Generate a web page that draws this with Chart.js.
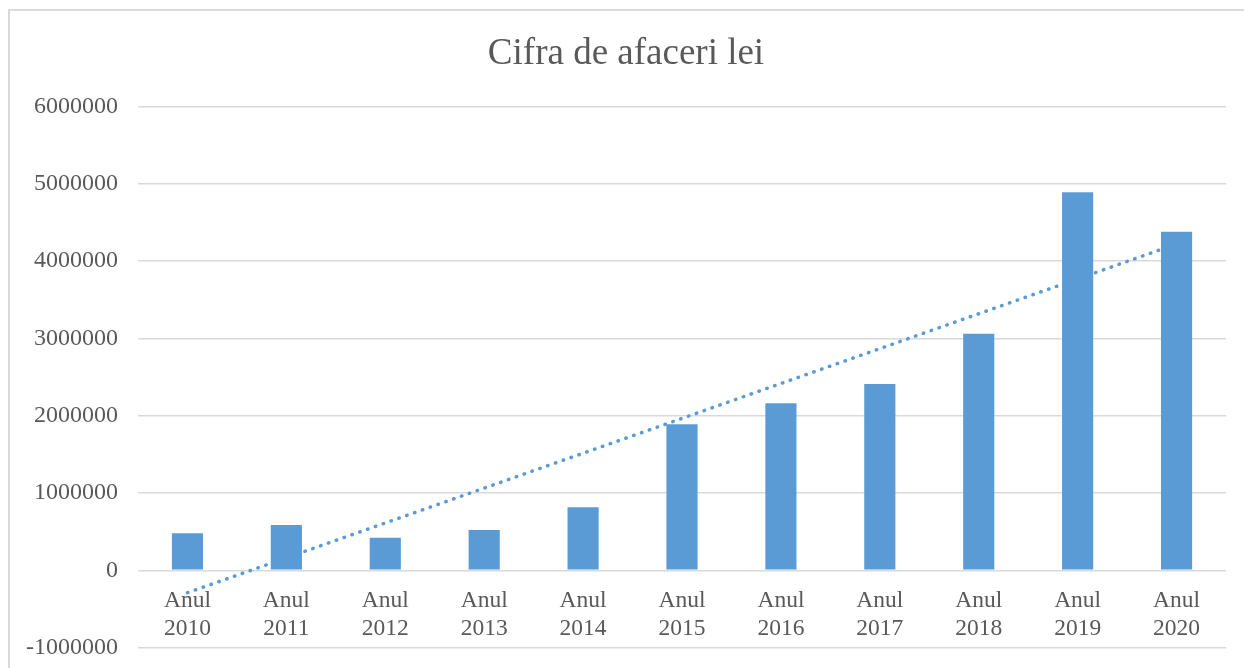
<!DOCTYPE html>
<html>
<head>
<meta charset="utf-8">
<script src="https://cdn.jsdelivr.net/npm/chart.js@4/dist/chart.umd.min.js"></script>
<style>
	body { margin: 0; background: #fff; overflow: hidden; }
	#frame {
		position: absolute; left: 8px; top: 9px;
		width: 1300px; height: 700px;
		border-left: 2px solid #d9d9d9; border-top: 2px solid #d9d9d9;
	}
	#chart { position: absolute; left: 0; top: 0; }
</style>
</head>
<body>
<div id="frame"><canvas id="chart" width="1246" height="671"></canvas></div>
<script>
// data
const years = ['Anul 2010', 'Anul 2011', 'Anul 2012', 'Anul 2013', 'Anul 2014', 'Anul 2015',
	'Anul 2016', 'Anul 2017', 'Anul 2018', 'Anul 2019', 'Anul 2020'];
const cifraAfaceri = [480000, 585000, 420000, 520000, 815000, 1890000, 2160000, 2410000, 3060000, 4890000, 4380000];
// trend line read at first and last year
const trendLine = [-290000, null, null, null, null, null, null, null, null, null, 4220000];
const yTicks = [-1000000, 0, 1000000, 2000000, 3000000, 4000000, 5000000, 6000000];

const fontFam = "'Liberation Serif', 'Times New Roman', serif";
const textGray = '#595959';
const gridGray = '#d9d9d9';
const blue = '#5b9bd5';

let config = {
	type: 'bar',
	data: {
		labels: years.map(l => l.split(' ')),
		datasets: [
			{
				label: 'Cifra de afaceri lei',
				data: cifraAfaceri,
				backgroundColor: blue,
				borderWidth: 0,
				barPercentage: 0.315,
				categoryPercentage: 1,
				order: 1,
			},
			{
				type: 'line',
				label: 'Linear',
				data: trendLine,
				spanGaps: true,
				borderColor: blue,
				borderWidth: 3.5,
				borderDash: [0.5, 7.8],
				borderCapStyle: 'round',
				pointRadius: 0,
				fill: false,
				order: 2,
			},
		]
	},
	options: {
		responsive: false,
		animation: false,
		layout: {
			padding: { left: 16, right: 30, top: 11, bottom: 1 }
		},
		plugins: {
			legend: { display: false },
			tooltip: { enabled: false },
			title: {
				display: true,
				text: 'Cifra de afaceri lei',
				color: textGray,
				font: { family: fontFam, size: 37, weight: 'normal' },
				padding: { top: 10, bottom: 30 },
			}
		},
		scales: {
			x: {
				position: { y: 0 },
				grid: { display: false },
				border: { display: false },
				ticks: {
					color: textGray,
					font: { family: fontFam, size: 23.5, lineHeight: 1.2 },
					padding: 8,
					maxRotation: 0,
					autoSkip: false,
				},
			},
			y: {
				min: -1000000,
				max: 6000000,
				afterBuildTicks: axis => { axis.ticks = yTicks.map(v => ({ value: v })); },
				afterFit: axis => { axis.width = 112; },
				grid: { color: gridGray, lineWidth: 1.5, drawTicks: false },
				border: { display: false },
				ticks: {
					color: textGray,
					font: { family: fontFam, size: 24 },
					padding: 20,
					callback: v => String(v),
				},
			}
		}
	}
};

window.addEventListener('load', () => {
	const ctx = document.getElementById('chart').getContext('2d');
	const myChart = new Chart(ctx, config);
});
</script>
</body>
</html>
